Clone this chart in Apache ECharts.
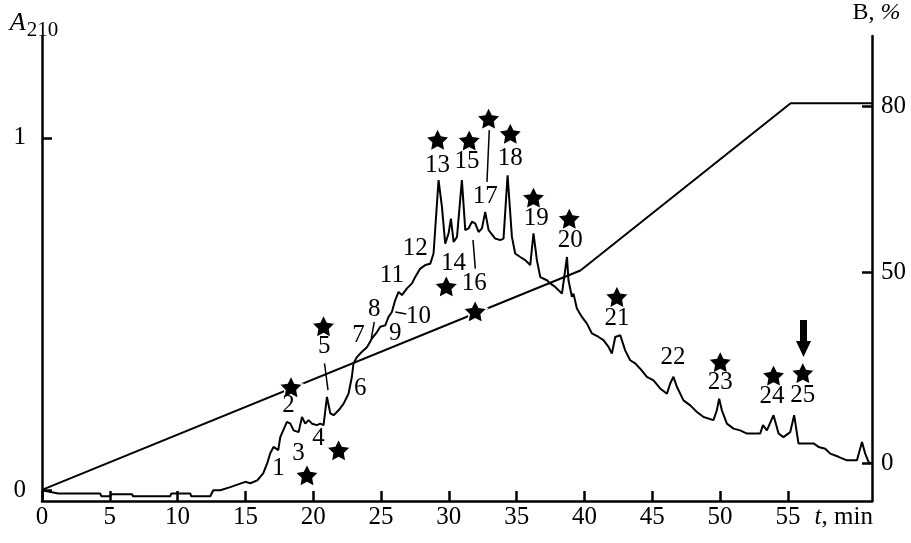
<!DOCTYPE html>
<html><head><meta charset="utf-8">
<script src="https://cdn.jsdelivr.net/npm/echarts@6/dist/echarts.min.js"></script>
<style>html,body{margin:0;padding:0;background:#fff}#c{width:911px;height:543px}</style>
</head><body><div id="c"></div>
<script>
const FONT = 'Liberation Serif';

// Chromatogram A210 vs time (min)
const traceT = [0, 1.2, 4.3, 4.37, 5.04, 5.11, 6.64, 6.71, 9.46, 9.53,
  10.93, 11.01, 12.41, 12.63, 13.15, 13.88, 14.62, 14.99, 15.36, 15.87,
  16.31, 16.61, 16.83, 17.07, 17.42, 17.57, 18.06, 18.31, 18.55, 18.92,
  19.17, 19.41, 19.66, 19.91, 20.27, 20.52, 20.76, 21.01, 21.26, 21.5,
  21.87, 22.24, 22.6, 22.85, 22.97, 23.22, 23.59, 23.96, 24.33, 24.7,
  24.94, 25.31, 25.55, 25.8, 26.04, 26.29, 26.54, 26.91, 27.28, 27.52,
  27.89, 28.26, 28.63, 28.87, 29.24, 29.49, 29.73, 29.98, 30.15, 30.35,
  30.6, 30.96, 31.21, 31.45, 31.7, 31.94, 32.19, 32.44, 32.68, 32.93,
  33.42, 33.79, 34.03, 34.33, 34.65, 34.89, 35.26, 35.63, 36.0, 36.24,
  36.49, 36.74, 37.23, 37.47, 37.84, 38.34, 38.71, 38.82, 39.07, 39.19,
  39.44, 39.81, 40.18, 40.55, 41.04, 41.4, 41.77, 42.02, 42.27, 42.64,
  43.0, 43.37, 43.74, 44.11, 44.6, 45.09, 45.58, 46.08, 46.32, 46.56,
  46.82, 47.3, 47.8, 48.29, 48.78, 49.51, 49.76, 49.93, 50.13, 50.5,
  50.99, 51.48, 51.98, 52.96, 53.16, 53.45, 53.94, 54.31, 54.67, 55.17,
  55.46, 55.78, 56.4, 56.89, 57.26, 57.75, 58.12, 58.73, 59.35, 60.09,
  60.46, 60.7, 60.95, 61.19];
const traceA = [0, -0.009, -0.009, -0.017, -0.017, -0.011, -0.011, -0.017, -0.017, -0.009,
  -0.009, -0.017, -0.017, 0, 0, 0.009, 0.019, 0.024, 0.02, 0.028,
  0.048, 0.077, 0.105, 0.123, 0.114, 0.151, 0.194, 0.189, 0.17, 0.165,
  0.208, 0.189, 0.199, 0.189, 0.185, 0.189, 0.185, 0.265, 0.218, 0.213,
  0.227, 0.246, 0.274, 0.322, 0.36, 0.378, 0.393, 0.406, 0.431, 0.449,
  0.464, 0.468, 0.492, 0.506, 0.539, 0.563, 0.554, 0.573, 0.587, 0.605,
  0.629, 0.639, 0.643, 0.672, 0.88, 0.804, 0.7, 0.729, 0.771, 0.705,
  0.719, 0.88, 0.738, 0.743, 0.762, 0.757, 0.733, 0.743, 0.79, 0.738,
  0.714, 0.71, 0.714, 0.894, 0.719, 0.672, 0.662, 0.653, 0.639, 0.729,
  0.653, 0.605, 0.596, 0.587, 0.577, 0.558, 0.662, 0.596, 0.549, 0.558,
  0.516, 0.492, 0.473, 0.445, 0.435, 0.426, 0.407, 0.388, 0.435, 0.44,
  0.397, 0.369, 0.36, 0.345, 0.322, 0.312, 0.289, 0.274, 0.303, 0.322,
  0.293, 0.255, 0.241, 0.222, 0.208, 0.199, 0.227, 0.26, 0.227, 0.189,
  0.175, 0.17, 0.161, 0.161, 0.185, 0.17, 0.213, 0.161, 0.151, 0.165,
  0.213, 0.133, 0.133, 0.133, 0.123, 0.118, 0.104, 0.095, 0.085, 0.085,
  0.137, 0.104, 0.08, 0.076];

// Gradient of B (values on the right axis as drawn)
const gradT = [0, 39.7, 55.2, 61.2];
const gradB = [10.9, 50.4, 80.5, 80.5];

// Tick labels
const xTicks = [0, 5, 10, 15, 20, 25, 30, 35, 40, 45, 50, 55];
const xTitleAt = 60;
const aTicks = [0, 1];
const bTickValues = [15.7, 50, 80];
const bTickLabels = ['0', '50', '80'];

// Peak numbers
const peakNames = ['1','2','3','4','5','6','7','8','9','10','11','12','13','14','15','16','17','18','19','20','21','22','23','24','25'];
const peakLabelT = [17.44, 18.18, 18.92, 20.39, 20.81, 23.47, 23.34, 24.50, 26.05, 27.77, 25.80, 27.52, 29.17, 30.34, 31.33, 31.87, 32.68, 34.53, 36.44, 38.95, 42.39, 46.52, 50.01, 53.82, 56.10];
const peakLabelA = [0.062, 0.241, 0.104, 0.147, 0.407, 0.289, 0.440, 0.513, 0.445, 0.494, 0.610, 0.686, 0.923, 0.643, 0.932, 0.587, 0.833, 0.942, 0.771, 0.708, 0.487, 0.378, 0.307, 0.265, 0.270];

// Stars
const starT = [19.54, 18.36, 21.87, 20.76, 29.81, 31.94, 29.17, 31.50, 32.93, 34.53, 36.24, 38.88, 42.39, 50.01, 53.94, 56.10];
const starA = [0.043, 0.293, 0.114, 0.466, 0.579, 0.508, 0.995, 0.993, 1.055, 1.012, 0.831, 0.771, 0.549, 0.364, 0.326, 0.333];

// Leader lines
const leaderT0 = [20.83, 24.50, 26.05, 31.78, 32.98];
const leaderA0 = [0.360, 0.478, 0.506, 0.710, 1.022];
const leaderT1 = [21.09, 24.28, 26.86, 31.95, 32.81];
const leaderA1 = [0.284, 0.431, 0.500, 0.629, 0.875];

// Arrow
const arrowT = [56.15];
const arrowA = [0.431];

const STAR = 'path://M0,-10 L2.94,-4.05 L9.511,-3.090 L4.76,1.55 L5.878,8.090 L0,5 L-5.878,8.090 L-4.76,1.55 L-9.511,-3.090 L-2.94,-4.05 Z';
const ARROW = 'path://M4,0 L11,0 L11,21 L15,21 L7.5,37 L0,21 L4,21 Z';

const txt = {color: '#000', fontFamily: FONT, fontSize: 25};
const axLine = {show: true, onZero: false, lineStyle: {color: '#000', width: 2.5}};
const tickStyle = {color: '#000', width: 2.5};

const series = [
  {type: 'line', data: traceT.map((t, i) => [t, traceA[i]]), yAxisIndex: 0, symbol: 'none',
   lineStyle: {color: '#000', width: 2}, silent: true},
  {type: 'line', data: gradT.map((t, i) => [t, gradB[i]]), yAxisIndex: 1, symbol: 'none',
   lineStyle: {color: '#000', width: 2}, silent: true}
];
leaderT0.forEach((t, i) => {
  series.push({type: 'line', yAxisIndex: 0, symbol: 'none', silent: true,
    data: [[t, leaderA0[i]], [leaderT1[i], leaderA1[i]]],
    lineStyle: {color: '#000', width: 1.5}});
});
series.push({type: 'scatter', yAxisIndex: 0, silent: true, symbol: STAR, symbolSize: [24, 23],
  data: starT.map((t, i) => [t, starA[i]]),
  itemStyle: {color: '#000', opacity: 1, borderColor: '#fff', borderWidth: 1.5}, z: 5});
series.push({type: 'scatter', yAxisIndex: 0, silent: true, symbol: ARROW, symbolSize: [15, 37],
  data: arrowT.map((t, i) => [t, arrowA[i]]), itemStyle: {color: '#000', opacity: 1}, z: 5});
series.push({type: 'scatter', yAxisIndex: 0, silent: true, symbol: 'circle', symbolSize: 1,
  data: peakNames.map((n, i) => ({name: n, value: [peakLabelT[i], peakLabelA[i]]})),
  itemStyle: {color: 'rgba(0,0,0,0)', opacity: 1},
  label: Object.assign({show: true, position: 'inside', opacity: 1, formatter: p => p.name}, txt), z: 6});

const chart = echarts.init(document.getElementById('c'), null, {renderer: 'canvas'});
chart.setOption({
  animation: false,
  backgroundColor: '#fff',
  grid: {left: 42, right: 39, top: 36, bottom: 42, containLabel: false, outerBoundsMode: 'none'},
  xAxis: {
    type: 'value', min: 0, max: 61.2, interval: 5,
    axisLine: axLine,
    axisTick: {show: true, inside: true, length: 10, lineStyle: tickStyle, customValues: xTicks},
    axisLabel: Object.assign({
      margin: 4, customValues: xTicks.concat([xTitleAt]),
      formatter: v => v === xTitleAt ? '{i|t}{n|, min}' : String(v),
      rich: {i: Object.assign({fontStyle: 'italic'}, txt), n: Object.assign({padding: [0, 24, 0, 0]}, txt)}
    }, txt),
    splitLine: {show: false}
  },
  yAxis: [
    {
      type: 'value', position: 'left', min: -0.0304, max: 1.289,
      axisLine: axLine,
      axisTick: {show: true, inside: true, length: 10, lineStyle: tickStyle, customValues: aTicks},
      axisLabel: Object.assign({margin: 16, customValues: aTicks, formatter: v => String(v)}, txt),
      splitLine: {show: false},
      name: '{a|A}{s|210}', nameLocation: 'end', nameGap: 0,
      nameTextStyle: {padding: [0, 16, 0, 0], rich: {
        a: {fontFamily: FONT, fontSize: 26, fontStyle: 'italic', color: '#000', lineHeight: 26, verticalAlign: 'top'},
        s: {fontFamily: FONT, fontSize: 21, color: '#000', lineHeight: 21, padding: [10, 0, 0, 1], verticalAlign: 'top'}
      }}
    },
    {
      type: 'value', position: 'right', min: 8.91, max: 92.6,
      axisLine: axLine,
      axisTick: {show: true, inside: true, length: 10, lineStyle: tickStyle, customValues: bTickValues},
      axisLabel: Object.assign({margin: 9, customValues: bTickValues, formatter: v => {
        let k = 0, d = Infinity;
        bTickValues.forEach((b, i) => { if (Math.abs(b - v) < d) { d = Math.abs(b - v); k = i; } });
        return bTickLabels[k];
      }}, txt),
      splitLine: {show: false},
      name: '{n|B, }{p|%}', nameLocation: 'end', nameGap: 11,
      nameTextStyle: {padding: [0, 0, 0, 9], rich: {
        n: {fontFamily: FONT, fontSize: 24, color: '#000', lineHeight: 24},
        p: {fontFamily: FONT, fontSize: 24, fontStyle: 'italic', color: '#000', lineHeight: 24}
      }}
    }
  ],
  series: series
});
</script>
</body></html>
